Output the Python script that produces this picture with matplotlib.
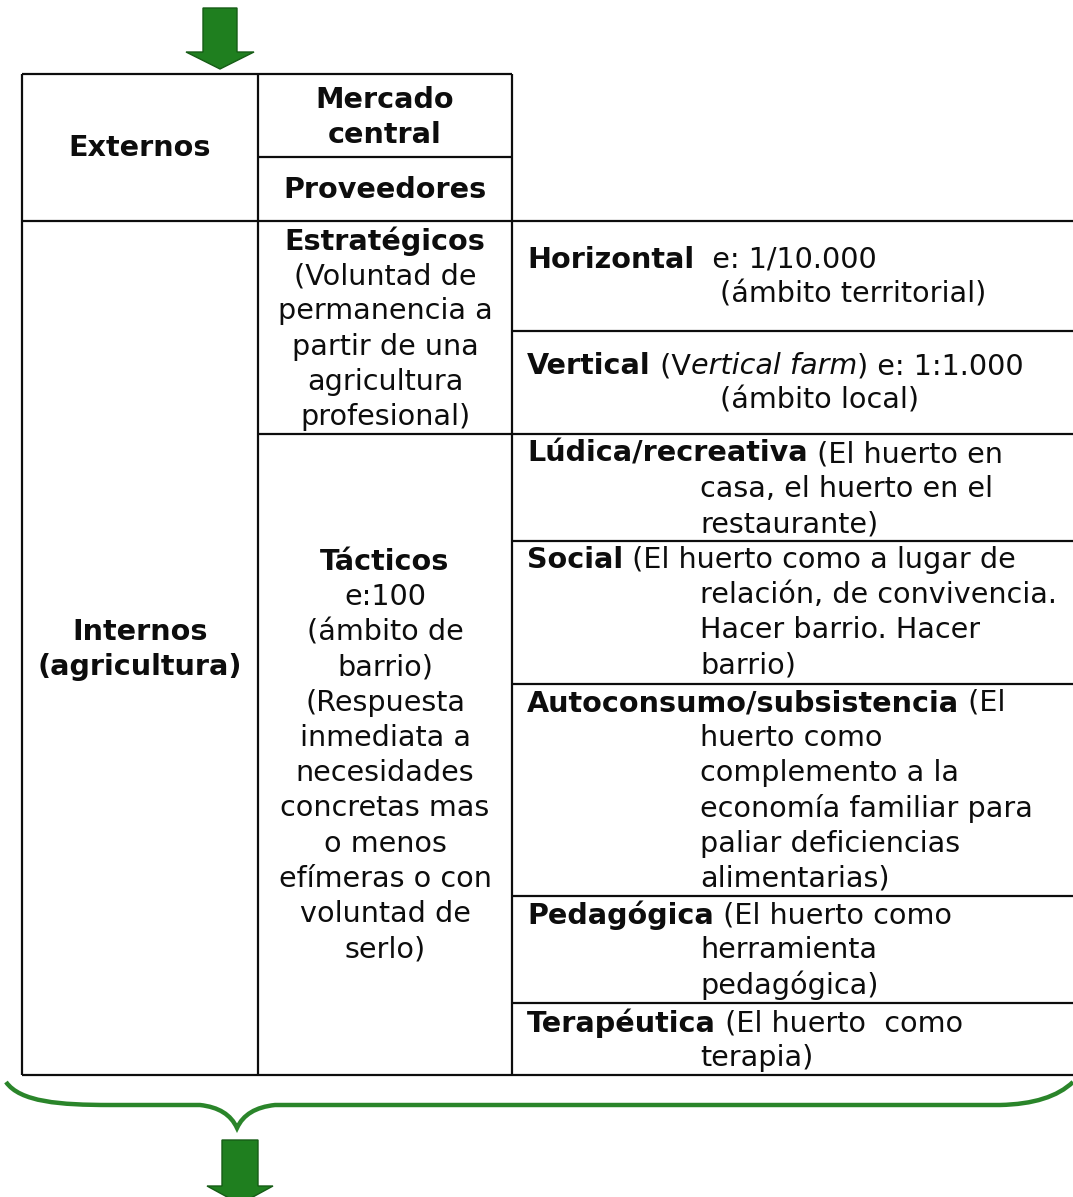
import matplotlib
matplotlib.use("Agg")
import matplotlib.pyplot as plt
from matplotlib.patches import Polygon, PathPatch
from matplotlib.path import Path

# ---------------- content ----------------
col1_ext = ["Externos"]
col1_int = ["Internos", "(agricultura)"]
ext_mercado = ["Mercado", "central"]
ext_prov = ["Proveedores"]
estrat_title = "Estratégicos"
estrat_lines = ["(Voluntad de", "permanencia a", "partir de una", "agricultura", "profesional)"]
tact_title = "Tácticos"
tact_lines = ["e:100", "(ámbito de", "barrio)", "(Respuesta", "inmediata a",
              "necesidades", "concretas mas", "o menos", "efímeras o con",
              "voluntad de", "serlo)"]
tact_cats = ["Lúdica/recreativa", "Social", "Autoconsumo/subsistencia",
             "Pedagógica", "Terapéutica"]
tact_first = [" (El huerto en", " (El huerto como a lugar de", " (El",
              " (El huerto como", " (El huerto  como"]
tact_cont = [["casa, el huerto en el", "restaurante)"],
             ["relación, de convivencia.", "Hacer barrio. Hacer", "barrio)"],
             ["huerto como", "complemento a la", "economía familiar para",
              "paliar deficiencias", "alimentarias)"],
             ["herramienta", "pedagógica)"],
             ["terapia)"]]

# ---------------- layout (pixels) ----------------
W, H = 1073, 1197
x0, x1, x2, x3 = 22, 258, 512, 1073
y_top, y_mc, y_ext = 74, 157, 221
y_col3 = [221, 331, 434, 541, 684, 896, 1003, 1075]
y_bot = 1075
LS = 35.2
FS = 20.6
ink = "#0d0d0d"
green = "#1f7f1f"

fig = plt.figure(figsize=(W / 100, H / 100), dpi=100)
ax = fig.add_axes([0, 0, 1, 1])
ax.set_xlim(0, W)
ax.set_ylim(H, 0)
ax.axis("off")

lw = 1.6
def hline(y, xa, xb):
    ax.plot([xa, xb], [y, y], color=ink, lw=lw, solid_capstyle="butt")
def vline(x, ya, yb):
    ax.plot([x, x], [ya, yb], color=ink, lw=lw, solid_capstyle="butt")

hline(y_top, x0, x2)
hline(y_mc, x1, x2)
vline(x0, y_top, y_bot)
vline(x1, y_top, y_bot)
vline(x2, y_top, y_bot)
for y in y_col3:
    hline(y, x0 if y in (y_ext, y_bot) else x2, x3)
hline(434, x1, x2)

fam = "DejaVu Sans"
def t(x, y, s, bold=False, ha="center"):
    return ax.text(x, y, s, ha=ha, va="center", fontsize=FS, family=fam,
                   fontweight="bold" if bold else "normal", color=ink)

def block(x, y, lines, bold=False):
    for i, s in enumerate(lines):
        t(x, y + LS * i, s, bold=bold)

# column 1
block(140, 148, col1_ext, bold=True)
block(140, 632, col1_int, bold=True)
# column 2 upper
block(385, 100, ext_mercado, bold=True)
block(385, 190, ext_prov, bold=True)
# Estratégicos
t(385, 241, estrat_title, bold=True)
block(385, 241 + LS, estrat_lines)
# Tácticos
t(385, 562, tact_title, bold=True)
block(385, 562 + LS, tact_lines)

def chain(prev, s, bold=False, italic=False):
    return ax.annotate(s, xy=(1, 0), xycoords=prev, ha="left", va="bottom",
                       fontsize=FS, family=fam,
                       fontweight="bold" if bold else "normal",
                       fontstyle="italic" if italic else "normal", color=ink)

def lt(x, y, s, bold=False):
    return ax.text(x, y, s, ha="left", va="center", fontsize=FS, family=fam,
                   fontweight="bold" if bold else "normal", color=ink)

xl, xi = 527, 700
# Horizontal
a = lt(xl, 260, "Horizontal", bold=True)
chain(a, "  e: 1/10.000")
lt(720, 295, "(ámbito territorial)")
# Vertical
a = lt(xl, 366, "Vertical", bold=True)
b = chain(a, " (V")
c = chain(b, "ertical farm", italic=True)
chain(c, ") e: 1:1.000")
lt(720, 401, "(ámbito local)")

first_y = [454, 560, 703, 915, 1023]
for cat, fst, cont, y in zip(tact_cats, tact_first, tact_cont, first_y):
    a = lt(xl, y, cat, bold=True)
    chain(a, fst)
    for j, s in enumerate(cont):
        lt(xi, y + LS * (j + 1), s)

# arrows
def down_arrow(cx, ytop, yhead, ytip, half_shaft, half_head):
    pts = [(cx - half_shaft, ytop), (cx + half_shaft, ytop), (cx + half_shaft, yhead),
           (cx + half_head, yhead), (cx, ytip), (cx - half_head, yhead),
           (cx - half_shaft, yhead)]
    ax.add_patch(Polygon(pts, closed=True, facecolor=green, edgecolor="#165c16",
                         lw=1.0, zorder=3))
down_arrow(220, 8, 52, 69, 17, 34)
down_arrow(240, 1140, 1186, 1204, 18, 33)

# brace
verts = [(6, 1082), (20, 1102), (60, 1105), (110, 1105),
         (200, 1105), (228, 1108), (237, 1128),
         (246, 1108), (275, 1105), (360, 1105),
         (1000, 1105), (1050, 1104), (1073, 1082)]
codes = [Path.MOVETO, Path.CURVE4, Path.CURVE4, Path.CURVE4,
         Path.LINETO, Path.CURVE3, Path.CURVE3,
         Path.CURVE3, Path.CURVE3, Path.LINETO,
         Path.LINETO, Path.CURVE3, Path.CURVE3]
ax.add_patch(PathPatch(Path(verts, codes), facecolor="none", edgecolor="#2a852a",
                       lw=3.2, zorder=3))

fig.savefig("out.png", dpi=100)
